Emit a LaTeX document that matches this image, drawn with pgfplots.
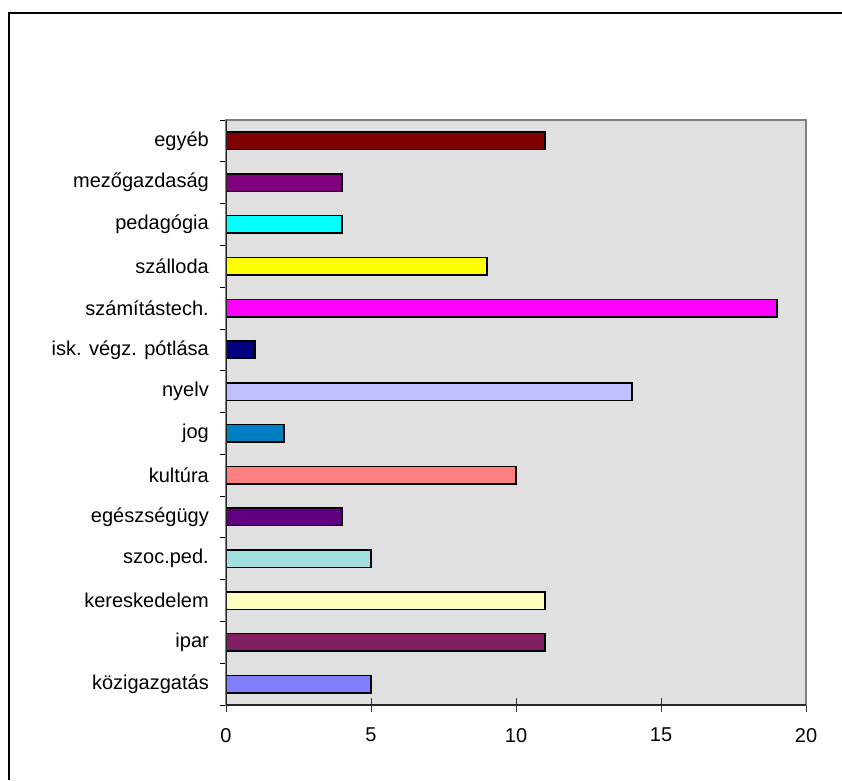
\documentclass[border=0pt]{standalone}
\usepackage{pgfplots}
\pgfplotsset{compat=1.18}
\usepackage{fontspec}
\setmainfont{Liberation Sans}
\definecolor{bgc}{HTML}{E0E0E0}
\definecolor{cEgyeb}{HTML}{800000}
\definecolor{cMezo}{HTML}{800080}
\definecolor{cPeda}{HTML}{00FFFF}
\definecolor{cSzall}{HTML}{FFFF00}
\definecolor{cSzamit}{HTML}{FF00FF}
\definecolor{cIsk}{HTML}{000080}
\definecolor{cNyelv}{HTML}{C0C0FF}
\definecolor{cJog}{HTML}{0080C0}
\definecolor{cKult}{HTML}{FF8080}
\definecolor{cEgesz}{HTML}{600080}
\definecolor{cSzoc}{HTML}{A0E0E0}
\definecolor{cKeres}{HTML}{FFFFC0}
\definecolor{cIpar}{HTML}{802060}
\definecolor{cKozig}{HTML}{8080FF}
\begin{document}
\begin{tikzpicture}[x=1pt,y=1pt]
\useasboundingbox (0,0) rectangle (842,780);
\draw[line width=2pt] (9,0) -- (9,767) -- (842,767);
\begin{axis}[
  at={(226pt,75pt)}, anchor=south west, scale only axis,
  width=580pt, height=585pt,
  xmin=0, xmax=20, ymin=-0.5, ymax=13.5,
  xtick={0,5,10,15,20},
  ytick={0,...,13},
  yticklabels={közigazgatás,ipar,kereskedelem,szoc.ped.,egészségügy,kultúra,jog,nyelv,isk. végz. pótlása,számítástech.,szálloda,pedagógia,mezőgazdaság,egyéb},
  minor ytick={-0.5,0.5,...,13.5},
  xtick pos=bottom, ytick pos=left,
  tick align=center,
  major tick length=14pt,
  minor tick length=6pt,
  major y tick style={draw=none},
  minor y tick style={draw=black, line width=0.8pt, xshift=-3pt},
  major x tick style={draw=black!80, line width=0.8pt},
  axis background/.style={fill=bgc},
  axis line style={draw=gray, line width=1.8pt},
  tick label style={font=\fontsize{20}{24}\selectfont},
  /pgf/number format/assume math mode=true,
  yticklabel style={inner sep=0pt, anchor=east, xshift=-10pt},
  xticklabel style={inner sep=0pt, anchor=north, yshift=-16pt},
  every axis plot/.append style={xbar, bar width=0.42, bar shift=0pt, draw=black, line width=1.5pt},
]
\addplot[fill=cKozig] coordinates {(5,0)};
\addplot[fill=cIpar] coordinates {(11,1)};
\addplot[fill=cKeres] coordinates {(11,2)};
\addplot[fill=cSzoc] coordinates {(5,3)};
\addplot[fill=cEgesz] coordinates {(4,4)};
\addplot[fill=cKult] coordinates {(10,5)};
\addplot[fill=cJog] coordinates {(2,6)};
\addplot[fill=cNyelv] coordinates {(14,7)};
\addplot[fill=cIsk] coordinates {(1,8)};
\addplot[fill=cSzamit] coordinates {(19,9)};
\addplot[fill=cSzall] coordinates {(9,10)};
\addplot[fill=cPeda] coordinates {(4,11)};
\addplot[fill=cMezo] coordinates {(4,12)};
\addplot[fill=cEgyeb] coordinates {(11,13)};
\draw[black!85, line width=1.5pt] (rel axis cs:0,1) -- (rel axis cs:0,0) -- (rel axis cs:1,0);
\end{axis}
\end{tikzpicture}
\end{document}
